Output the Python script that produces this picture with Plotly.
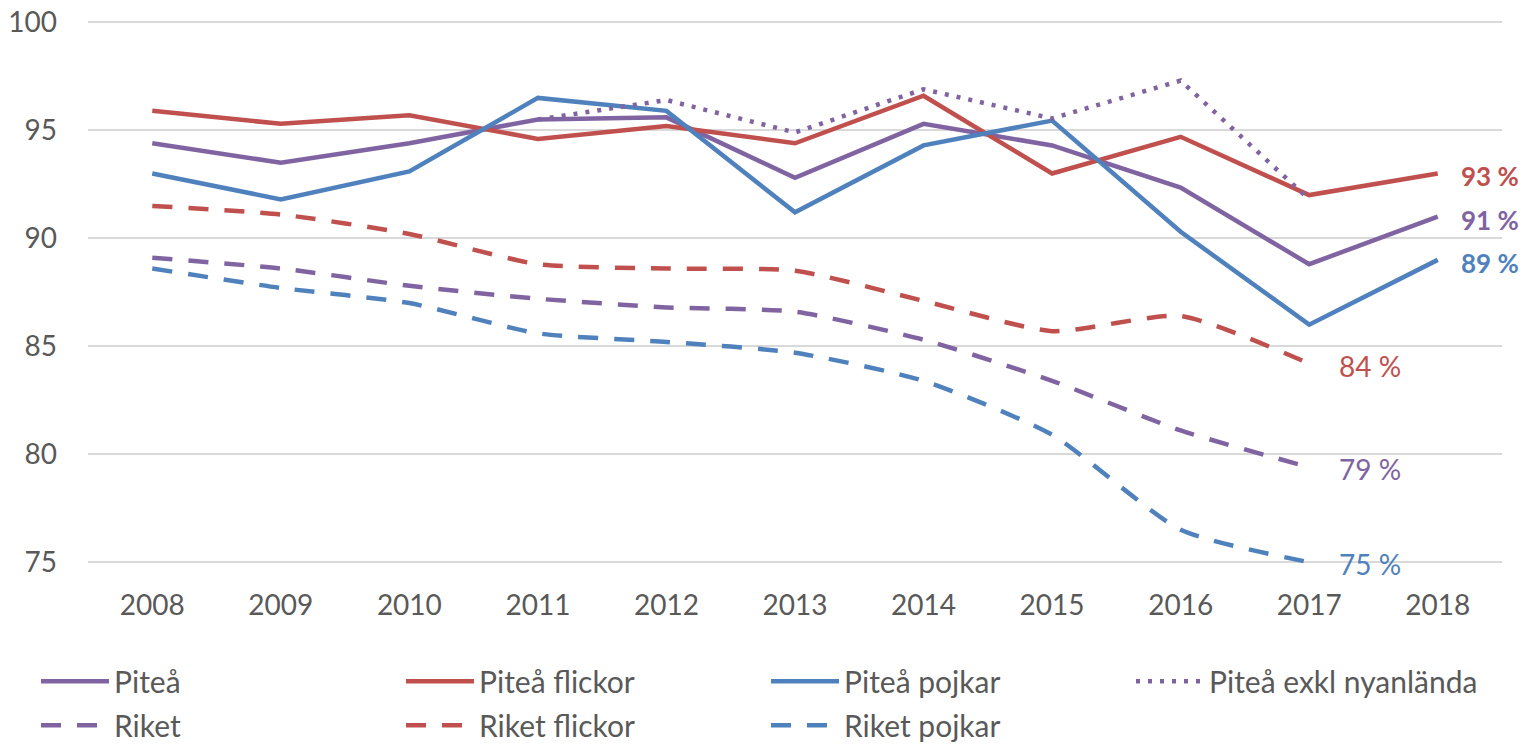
import plotly.graph_objects as go

years = ["2008", "2009", "2010", "2011", "2012", "2013", "2014", "2015", "2016", "2017", "2018"]

pitea = [94.4, 93.5, 94.4, 95.5, 95.6, 92.8, 95.3, 94.3, 92.35, 88.8, 91.0]
pitea_flickor = [95.9, 95.3, 95.7, 94.6, 95.2, 94.4, 96.6, 93.0, 94.7, 92.0, 93.0]
pitea_pojkar = [93.0, 91.8, 93.1, 96.5, 95.9, 91.2, 94.3, 95.45, 90.3, 86.0, 89.0]
pitea_exkl = [None, None, None, 95.5, 96.4, 94.9, 96.9, 95.55, 97.3, 91.8, None]
riket = [89.1, 88.6, 87.8, 87.2, 86.8, 86.6, 85.3, 83.4, 81.1, 79.4, None]
riket_flickor = [91.5, 91.1, 90.2, 88.8, 88.6, 88.5, 87.1, 85.7, 86.4, 84.2, None]
riket_pojkar = [88.6, 87.7, 87.0, 85.6, 85.2, 84.7, 83.4, 80.9, 76.5, 75.0, None]

PURPLE = "#8064A2"
RED = "#C0504D"
BLUE = "#4F81BD"
TXT = "#595959"
FONT = "Lato"

series = [
    ("Piteå", pitea, PURPLE, "solid", "linear", "legend"),
    ("Piteå flickor", pitea_flickor, RED, "solid", "linear", "legend"),
    ("Piteå pojkar", pitea_pojkar, BLUE, "solid", "linear", "legend"),
    ("Piteå exkl nyanlända", pitea_exkl, PURPLE, "4px,8px", "linear", "legend"),
    ("Riket", riket, PURPLE, "20px,16px", "spline", "legend2"),
    ("Riket flickor", riket_flickor, RED, "20px,16px", "spline", "legend2"),
    ("Riket pojkar", riket_pojkar, BLUE, "20px,16px", "spline", "legend2"),
]

fig = go.Figure()
for name, vals, col, dash, shape, leg in series:
    fig.add_trace(go.Scatter(
        x=years, y=vals, name=name, mode="lines", legend=leg,
        line=dict(color=col, width=4.5, dash=dash, shape=shape, smoothing=0.6),
        connectgaps=False, hoverinfo="skip",
    ))


def last(vals):
    idx = max(i for i, v in enumerate(vals) if v is not None)
    return idx, vals[idx]


for vals, col, bold in [(pitea_flickor, RED, True), (pitea, PURPLE, True), (pitea_pojkar, BLUE, True),
                        (riket_flickor, RED, False), (riket, PURPLE, False), (riket_pojkar, BLUE, False)]:
    i, v = last(vals)
    txt = f"{round(v)} %"
    if bold:
        txt = f"<b>{txt}</b>"
    fig.add_annotation(
        x=i, y=v, xref="x", yref="y", text=txt, showarrow=False,
        xanchor="left", yanchor="middle",
        xshift=21 if bold else 28, yshift=-3 if bold else -2,
        font=dict(family=FONT, size=26 if bold else 28, color=col),
    )

# the page body adds an 8px offset; figure coordinates below compensate for it
PLOT_TOP, PLOT_BOTTOM = 9.7, 564.8
PLOT_LEFT, PLOT_RIGHT = 80, 1494
plot_h = PLOT_BOTTOM - PLOT_TOP
plot_w = PLOT_RIGHT - PLOT_LEFT

legend_common = dict(
    orientation="h", xref="paper", yref="paper",
    x=(28 - PLOT_LEFT) / plot_w, xanchor="left", yanchor="top",
    entrywidth=282, itemwidth=68, tracegroupgap=0,
    font=dict(family=FONT, size=30, color=TXT),
    traceorder="normal", bgcolor="rgba(0,0,0,0)",
)

fig.update_layout(
    width=1528, height=744,
    margin=dict(l=PLOT_LEFT, r=1528 - PLOT_RIGHT, t=PLOT_TOP, b=744 - PLOT_BOTTOM, autoexpand=False),
    paper_bgcolor="white", plot_bgcolor="white",
    font=dict(family=FONT, size=28, color=TXT),
    showlegend=True,
    legend=dict(legend_common, y=-(647 - PLOT_BOTTOM) / plot_h),
    legend2=dict(legend_common, y=-(691 - PLOT_BOTTOM) / plot_h),
)
fig.update_xaxes(
    type="category", range=[-0.5, 10.5], showgrid=False, showline=False, automargin=False,
    ticks="", tickfont=dict(family=FONT, size=28, color=TXT), ticklabelstandoff=13,
    ticklabeloverflow="allow",
)
fig.update_yaxes(
    range=[74.5, 100.2], tick0=75, dtick=5, showgrid=True, gridcolor="#D9D9D9", gridwidth=1.5,
    zeroline=False, showline=False, ticks="", automargin=False,
    tickfont=dict(family=FONT, size=28, color=TXT), ticklabelstandoff=30,
    ticklabeloverflow="allow",
)

fig.write_html("out.html")
